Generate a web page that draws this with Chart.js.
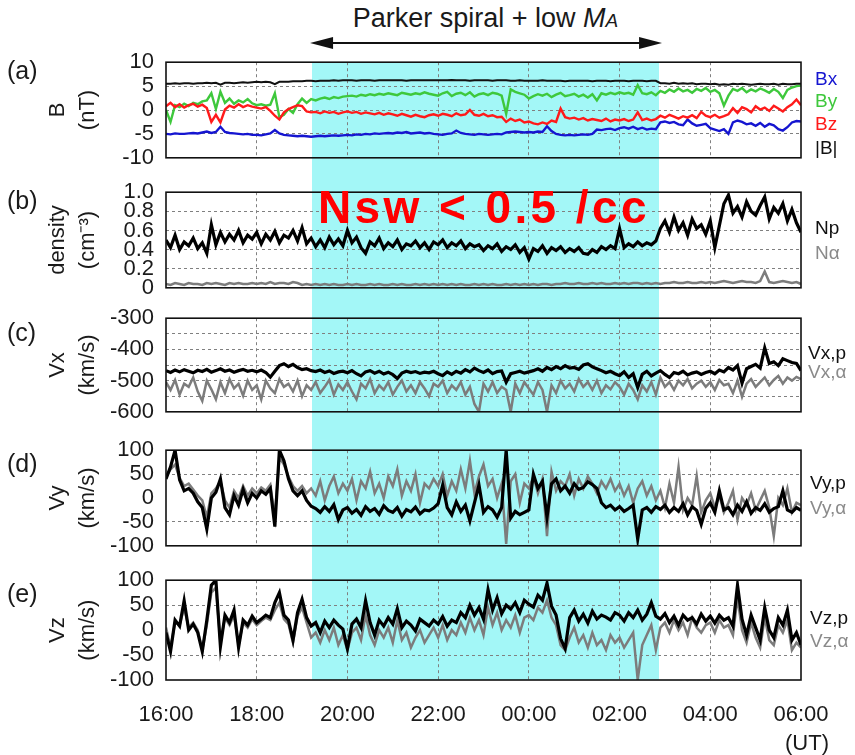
<!DOCTYPE html>
<html>
<head>
<meta charset="utf-8">
<script src="https://cdn.jsdelivr.net/npm/chart.js@4.4.1/dist/chart.umd.min.js"></script>
<style>
  html, body { margin: 0; padding: 0; background: #fff; }
  body { width: 855px; height: 755px; position: relative; overflow: hidden;
         font-family: "Liberation Sans", Arial, sans-serif; color: #1a1a1a; }
  canvas { position: absolute; left: 0; }
  #band { position: absolute; background: #a3f7f7; }
  #arrow { position: absolute; left: 0; top: 0; }
  .t { position: absolute; white-space: nowrap; line-height: 1; transform: translateY(-50%); }
  .lg { font-size: 19px; left: 815px; }
  .pl { font-size: 25px; left: 7px; }
</style>
</head>
<body>
<div id="band"></div>
<svg id="arrow" width="855" height="60"></svg>
<canvas id="pa"></canvas>
<canvas id="pb"></canvas>
<canvas id="pc"></canvas>
<canvas id="pd"></canvas>
<canvas id="pe"></canvas>

<div id="ttl" class="t" style="font-size:27px;top:18px;">Parker spiral + low <i>M</i><i style="font-size:19px">A</i></div>
<div class="t" style="font-size:46px;font-weight:bold;color:#ff0000;left:318px;top:207px;letter-spacing:3.4px;">Nsw &lt; 0.5 /cc</div>

<div class="t pl" style="top:70px">(a)</div>
<div class="t pl" style="top:200px">(b)</div>
<div class="t pl" style="top:332px">(c)</div>
<div class="t pl" style="top:463px">(d)</div>
<div class="t pl" style="top:593px">(e)</div>

<div class="t lg" style="top:78px;color:#1515d0">Bx</div>
<div class="t lg" style="top:100px;color:#3ec83c">By</div>
<div class="t lg" style="top:123px;color:#ff1a1a">Bz</div>
<div class="t lg" style="top:147px;color:#111">|B|</div>
<div class="t lg" style="top:227px;color:#111">Np</div>
<div class="t lg" style="top:252px;color:#8a8a8a">Nα</div>
<div class="t lg" style="top:352px;left:808px;color:#111">Vx,p</div>
<div class="t lg" style="top:371px;left:808px;color:#8a8a8a">Vx,α</div>
<div class="t lg" style="top:482px;left:810px;color:#111">Vy,p</div>
<div class="t lg" style="top:507px;left:810px;color:#8a8a8a">Vy,α</div>
<div class="t lg" style="top:617px;left:810px;color:#111">Vz,p</div>
<div class="t lg" style="top:640px;left:810px;color:#8a8a8a">Vz,α</div>
<div class="t" style="font-size:22px;left:785px;top:743px;">(UT)</div>

<script>
// one sample every 6 min, hours since 16:00 UT
const hours = Array.from({ length: 141 }, (_, i) => +(i * 0.1).toFixed(1));
const timeTicks = ['16:00', '18:00', '20:00', '22:00', '00:00', '02:00', '04:00', '06:00'];
const bandHours = [3.22, 10.87]; // 19:13 - 02:52, Parker spiral + low MA

// (a) magnetic field, nT
const bMag = [
  5.5,5.5,5.6,5.5,5.6,5.6,5.5,5.6,5.6,5.7,5.6,5.7,5.3,5.7,5.7,5.6,5.7,5.8,5.7,5.8,
  5.9,5.8,5.9,5.8,5.4,5.9,5.9,5.9,6.0,6.0,6.0,6.1,6.1,6.0,6.1,6.1,6.1,6.2,6.1,6.2,
  6.2,6.2,6.1,6.2,6.2,6.2,6.1,6.2,6.2,6.2,6.2,6.2,6.2,6.1,6.2,6.2,6.2,6.2,6.2,6.2,
  6.2,6.2,6.2,6.3,6.2,6.2,6.2,6.1,6.2,6.2,6.2,6.2,6.1,6.2,6.2,6.2,6.1,6.1,6.2,6.1,
  6.1,6.1,6.1,6.2,6.1,6.1,6.1,6.1,6.0,6.1,6.1,6.1,6.1,6.1,6.0,6.1,6.1,6.1,6.0,6.1,
  6.1,6.1,6.0,6.1,6.1,6.1,6.0,6.1,6.1,5.6,5.6,5.5,5.7,5.5,5.6,5.5,5.6,5.4,5.5,5.5,
  5.4,5.5,5.3,5.4,5.3,5.5,5.4,5.5,5.4,5.3,5.4,5.5,5.4,5.4,5.5,5.3,5.5,5.4,5.4,5.5,
  5.5
];
const bx = [
  -5.0,-5.1,-4.9,-5.0,-5.0,-4.9,-4.8,-4.9,-4.7,-4.5,-4.8,-4.6,-3.5,-4.6,-4.8,-4.9,-5.0,-5.1,-5.0,-5.2,
  -5.2,-5.3,-5.1,-4.9,-4.2,-4.9,-5.2,-5.3,-5.4,-5.5,-5.4,-5.5,-5.6,-5.5,-5.4,-5.5,-5.4,-5.3,-5.4,-5.3,
  -5.2,-5.3,-5.1,-5.2,-5.0,-5.1,-4.9,-5.0,-4.9,-4.8,-4.9,-4.7,-4.8,-4.6,-4.9,-4.8,-4.7,-4.9,-4.8,-5.0,
  -5.1,-5.2,-5.0,-4.9,-4.3,-4.8,-5.0,-5.1,-5.2,-5.0,-5.1,-5.2,-5.1,-5.0,-5.1,-4.7,-4.6,-4.5,-4.6,-4.7,
  -4.6,-4.7,-4.5,-4.6,-3.4,-4.4,-5.0,-5.2,-5.3,-5.2,-5.3,-5.2,-5.1,-5.2,-5.0,-4.1,-4.2,-4.0,-3.9,-4.2,
  -3.8,-3.6,-3.9,-3.5,-4.0,-3.7,-4.1,-3.9,-4.0,-2.6,-2.4,-2.7,-2.5,-3.0,-3.2,-2.0,-2.8,-3.3,-3.1,-2.9,
  -3.8,-4.1,-4.4,-4.0,-5.0,-2.6,-2.2,-2.5,-3.0,-2.8,-3.3,-2.7,-3.5,-2.9,-3.2,-4.0,-4.3,-3.6,-2.6,-2.3,
  -2.4
];
const by = [
  0.0,-2.5,1.0,0.6,1.3,0.8,1.5,1.2,1.8,2.0,3.5,0.2,3.8,1.5,2.4,1.3,2.0,1.6,2.3,1.4,
  1.0,1.2,0.9,1.1,3.5,-1.5,-1.0,0.2,-0.6,1.2,2.4,1.5,2.3,2.0,2.4,2.6,2.3,2.7,2.5,2.8,
  2.9,3.0,2.8,3.2,3.0,3.3,3.1,3.4,3.2,3.5,3.3,3.1,3.6,3.4,3.2,3.5,3.3,3.7,3.4,3.2,
  3.0,3.5,3.8,2.9,3.4,3.6,3.1,3.7,2.8,3.3,3.5,3.1,3.6,3.4,3.0,-0.8,4.3,3.8,3.5,3.2,
  2.4,2.9,3.3,3.0,3.4,2.7,3.2,3.6,2.9,3.1,3.4,2.8,3.2,2.6,3.3,2.0,3.5,3.2,3.6,3.3,
  3.7,3.4,3.6,3.2,5.2,3.5,3.3,3.7,3.1,4.0,3.6,4.3,3.8,4.5,3.9,4.2,3.6,4.4,4.0,4.6,
  3.8,4.2,3.5,0.9,3.0,4.4,4.0,4.6,3.7,4.3,3.9,4.5,4.1,3.6,4.4,3.8,2.5,4.2,4.7,5.0,
  5.1
];
const bz = [
  0.8,1.5,0.6,1.2,0.5,1.0,1.3,0.7,1.1,0.4,-2.5,-1.0,-2.6,0.1,0.9,0.5,1.2,0.6,1.0,0.7,
  0.5,0.3,0.6,-0.2,-1.2,-2.0,-0.5,0.2,0.6,1.0,0.8,-0.3,-0.5,-0.4,-0.7,-0.3,-0.6,-0.4,-0.8,-0.5,
  -0.3,-0.6,-0.4,-0.8,-0.5,-0.7,-0.9,-0.6,-1.0,-0.7,-0.9,-1.2,-0.8,-1.1,-1.4,-1.0,-1.3,-1.5,-1.1,-0.9,
  -1.2,-0.8,-1.0,-1.3,-0.7,-1.1,-0.9,0.0,-1.0,-1.2,-0.8,-1.3,-1.1,-1.5,-1.4,-2.5,-1.8,-2.3,-2.0,-2.6,
  -2.4,-2.8,-3.0,-2.6,-2.9,-2.2,-2.5,0.3,-1.5,-1.8,-1.6,-2.0,-1.7,-2.2,-1.9,-2.1,-2.3,-1.8,-2.4,-2.0,
  -2.2,-1.9,-2.3,-2.0,-0.5,-2.1,-1.8,-2.2,-1.9,-1.2,-1.6,-1.0,-1.4,-1.8,-1.3,-1.6,-1.1,-1.7,-0.4,-1.2,
  -1.5,-1.0,-1.6,-1.3,-0.9,0.4,-0.6,0.6,0.2,-0.5,0.8,0.1,0.5,-0.2,0.9,0.3,-0.3,0.6,1.2,2.2,
  1.0
];

// (b) density, cm^-3
const nP = [
  0.50,0.42,0.55,0.40,0.48,0.44,0.52,0.41,0.47,0.36,0.66,0.45,0.58,0.48,0.56,0.50,0.60,0.47,0.55,0.51,
  0.58,0.46,0.56,0.50,0.59,0.47,0.55,0.52,0.60,0.49,0.63,0.46,0.52,0.43,0.50,0.42,0.53,0.45,0.51,0.44,
  0.60,0.47,0.53,0.42,0.36,0.48,0.44,0.52,0.41,0.47,0.43,0.50,0.40,0.46,0.44,0.49,0.42,0.47,0.40,0.48,
  0.45,0.50,0.42,0.47,0.44,0.49,0.41,0.46,0.43,0.45,0.39,0.44,0.41,0.46,0.38,0.43,0.40,0.45,0.37,0.42,
  0.30,0.41,0.38,0.44,0.36,0.42,0.39,0.43,0.37,0.41,0.38,0.42,0.36,0.35,0.40,0.37,0.43,0.40,0.44,0.41,
  0.62,0.42,0.46,0.43,0.48,0.44,0.47,0.45,0.49,0.62,0.70,0.58,0.74,0.60,0.68,0.55,0.72,0.62,0.66,0.56,
  0.70,0.42,0.65,0.88,0.97,0.78,0.85,0.74,0.90,0.80,0.76,0.86,0.95,0.72,0.84,0.78,0.88,0.70,0.82,0.68,
  0.58
];
const nAlpha = [
  0.04,0.03,0.05,0.04,0.03,0.05,0.04,0.04,0.03,0.05,0.04,0.05,0.04,0.03,0.05,0.04,0.05,0.04,0.04,0.05,
  0.04,0.05,0.04,0.06,0.04,0.05,0.05,0.04,0.06,0.05,0.03,0.04,0.03,0.04,0.03,0.04,0.03,0.04,0.03,0.03,
  0.04,0.03,0.04,0.03,0.03,0.04,0.03,0.04,0.03,0.03,0.04,0.03,0.04,0.03,0.03,0.04,0.03,0.04,0.03,0.04,
  0.03,0.04,0.03,0.04,0.03,0.04,0.03,0.03,0.04,0.03,0.04,0.03,0.04,0.03,0.03,0.04,0.03,0.04,0.03,0.04,
  0.03,0.04,0.03,0.04,0.04,0.03,0.04,0.04,0.05,0.04,0.04,0.05,0.04,0.04,0.05,0.04,0.05,0.04,0.04,0.05,
  0.04,0.05,0.04,0.05,0.05,0.04,0.05,0.04,0.05,0.04,0.05,0.05,0.06,0.05,0.05,0.06,0.05,0.05,0.06,0.05,
  0.06,0.05,0.06,0.07,0.06,0.05,0.06,0.07,0.06,0.06,0.05,0.07,0.17,0.06,0.05,0.06,0.07,0.06,0.05,0.06,
  0.04
];

// (c) Vx, km/s
const vxP = [
  -468,-474,-466,-472,-465,-470,-475,-467,-471,-464,-473,-468,-462,-470,-466,-473,-468,-464,-470,-467,
  -472,-466,-474,-489,-470,-452,-446,-455,-448,-458,-465,-462,-468,-471,-466,-474,-469,-477,-472,-470,
  -475,-468,-478,-485,-472,-468,-476,-470,-479,-473,-481,-493,-476,-470,-474,-471,-477,-473,-475,-470,
  -478,-484,-472,-480,-470,-476,-465,-472,-460,-468,-474,-466,-478,-471,-469,-505,-478,-474,-470,-476,
  -472,-468,-462,-470,-458,-465,-455,-462,-452,-460,-458,-464,-450,-446,-456,-462,-468,-475,-470,-478,
  -484,-472,-490,-478,-522,-480,-470,-485,-476,-468,-480,-490,-474,-478,-470,-482,-476,-472,-480,-474,
  -470,-478,-466,-472,-458,-466,-452,-508,-462,-455,-448,-460,-395,-445,-440,-452,-430,-436,-442,-445,
  -468
];
const vxA = [
  -505,-530,-498,-545,-510,-520,-490,-535,-565,-500,-528,-560,-505,-540,-495,-525,-510,-548,-500,-530,
  -515,-560,-500,-525,-540,-495,-520,-510,-535,-500,-550,-515,-530,-505,-540,-520,-498,-545,-512,-530,
  -505,-535,-560,-510,-525,-495,-540,-515,-530,-505,-545,-520,-500,-535,-515,-540,-505,-525,-550,-510,
  -520,-500,-540,-515,-530,-505,-545,-520,-575,-600,-510,-535,-505,-540,-520,-530,-600,-510,-540,-505,
  -525,-545,-505,-530,-600,-515,-540,-500,-525,-510,-535,-495,-520,-505,-530,-500,-540,-515,-528,-505,
  -520,-545,-510,-530,-560,-515,-535,-505,-545,-490,-520,-505,-530,-500,-515,-495,-525,-510,-500,-520,
  -505,-530,-498,-515,-510,-540,-500,-552,-510,-495,-520,-505,-490,-515,-498,-485,-510,-490,-500,-488,
  -495
];

// (d) Vy, km/s
const vyP = [
  40,65,100,38,15,20,10,-8,-20,-65,0,12,40,-20,-35,5,-15,18,-10,10,
  0,15,8,20,-60,100,78,40,15,5,15,-5,-17,-22,-30,-18,-28,-14,-45,-25,
  -20,-32,-24,-36,-18,-28,-22,-34,-16,-26,-30,-20,-38,-24,-29,-19,-33,-25,-27,-21,
  -12,27,-20,-35,-8,-28,-15,-48,-10,27,-30,-18,-25,-40,-20,100,-42,-28,-35,-30,
  -25,50,20,35,-40,30,40,15,25,10,30,18,22,34,28,20,-10,-20,-15,-25,
  -18,-28,-22,-15,-86,-25,-20,-30,-18,-24,-15,-30,-20,-28,-12,-35,-18,-26,-55,-22,
  -10,-30,15,-25,-20,-35,-15,-28,-8,-32,-20,-26,-12,-30,-22,-18,15,-25,-30,-20,
  -26
];
const vyA = [
  45,60,70,42,25,30,18,5,-5,-40,10,20,35,-5,-20,15,0,25,5,20,
  10,22,15,28,-40,85,70,45,25,15,25,10,20,5,35,-5,25,45,10,30,
  15,40,-5,35,20,55,10,30,0,45,25,60,5,35,15,50,-10,30,20,40,
  25,50,5,35,15,60,20,78,10,45,70,25,40,0,30,-96,35,50,-10,30,
  20,45,10,40,-80,55,15,35,25,50,5,40,20,45,30,10,35,20,40,15,
  30,5,25,-10,20,35,5,25,-5,15,-20,30,-10,65,-25,0,-15,46,-30,-5,
  10,-20,5,-30,-10,15,-45,0,-15,10,-25,-5,15,-20,-80,0,-15,20,-30,-10,
  -15
];

// (e) Vz, km/s
const vzP = [
  -5,-43,20,8,59,0,12,-5,-43,20,90,100,-33,30,15,40,-35,20,10,28,
  15,22,30,25,55,75,30,20,-20,35,62,25,8,15,-5,18,5,20,10,2,
  -37,12,22,5,59,15,-10,20,8,25,12,43,5,18,10,-2,22,15,8,20,
  12,27,8,20,15,35,25,50,30,45,22,81,40,65,33,50,42,55,35,60,
  52,46,70,60,94,48,30,-17,-37,25,40,18,32,14,38,22,30,26,20,35,
  30,18,35,25,40,20,32,55,28,22,33,15,28,10,30,20,25,12,32,18,
  28,14,30,20,25,8,90,22,-10,30,5,-20,45,0,-15,25,10,40,-20,-5,
  -30
];
const vzA = [
  5,-35,15,10,45,5,15,0,-40,10,75,85,-25,25,10,30,-30,15,5,22,
  10,18,25,20,40,55,22,12,-25,28,45,15,-15,-5,-25,0,-20,5,-30,-10,
  -40,-5,5,-20,30,-10,-30,0,-15,5,-25,20,-20,-5,-35,-15,0,-25,-10,5,
  -15,10,-20,0,-10,15,-5,25,0,20,-10,45,10,35,0,20,5,30,-5,25,
  30,20,45,35,60,25,10,-30,-40,-15,5,-25,-10,-35,-5,-30,-20,-40,-10,-25,
  -15,-35,-20,-5,-100,-30,-10,10,-40,5,15,-5,20,0,15,-10,25,5,-5,10,
  15,-5,20,5,10,-10,65,0,-25,15,-15,-35,25,-20,-30,10,-5,20,-40,-25,
  -35
];

const INK = '#1a1a1a';
const GREY = '#7c7c7c';
const GRID = '#808080';
Chart.defaults.font.family = '"Liberation Sans", Arial, sans-serif';

const panels = [
  { id: 'pa', top: 57, bottom: 163, min: -10, max: 10, step: 5, title: ['B', '(nT)'],
    sets: [[bMag, '#111', 2], [bz, '#ff1a1a', 2.4], [bx, '#1515d0', 2.4], [by, '#3ec83c', 2.4]] },
  { id: 'pb', top: 187, bottom: 293, min: 0, max: 1, step: 0.2, title: ['density', '(cm⁻³)'],
    fmt: v => (Math.abs(v) < 1e-9 ? '0' : v.toFixed(1)),
    sets: [[nP, '#000', 3.2], [nAlpha, GREY, 2.5]] },
  { id: 'pc', top: 313, bottom: 417, min: -600, max: -300, step: 50, title: ['Vx', '(km/s)'],
    fmt: v => (v % 100 === 0 ? String(v) : ''),
    sets: [[vxP, '#000', 3.2], [vxA, GREY, 2.5]] },
  { id: 'pd', top: 445, bottom: 551, min: -100, max: 100, step: 50, title: ['Vy', '(km/s)'],
    noZeroGrid: true, sets: [[vyP, '#000', 3.2], [vyA, GREY, 2.5]] },
  { id: 'pe', top: 575, bottom: 680, min: -100, max: 100, step: 50, title: ['Vz', '(km/s)'],
    noZeroGrid: true, sets: [[vzP, '#000', 3.2], [vzA, GREY, 2.5]] }
];

// box around each plot area
const frame = {
  id: 'frame',
  afterDraw(chart) {
    const { ctx, chartArea: a } = chart;
    ctx.save();
    ctx.strokeStyle = '#111';
    ctx.lineWidth = 1.6;
    ctx.strokeRect(a.left, a.top, a.right - a.left, a.bottom - a.top);
    ctx.restore();
  }
};

function makePanel(p, isLast) {
  const canvas = document.getElementById(p.id);
  const padTop = 20, padBottom = isLast ? 0 : 20, axisH = isLast ? 60 : 0;
  canvas.width = 855;
  canvas.height = p.bottom - p.top + padTop + padBottom + axisH;
  canvas.style.top = (p.top - padTop) + 'px';
  const near = (a, b) => Math.abs(a - b) < 1e-6;

  return new Chart(canvas.getContext('2d'), {
    type: 'line',
    data: {
      labels: hours,
      datasets: p.sets.map(([data, color, w]) => ({
        data, borderColor: color, borderWidth: w, pointRadius: 0, tension: 0, fill: false
      }))
    },
    options: {
      responsive: false,
      animation: false,
      devicePixelRatio: 1,
      layout: { padding: { top: padTop, bottom: padBottom, left: 0, right: 54 } },
      plugins: { legend: { display: false }, tooltip: { enabled: false } },
      scales: {
        x: {
          type: 'linear', min: 0, max: 14,
          afterFit: s => { s.height = axisH; },
          ticks: {
            display: isLast, stepSize: 2, autoSkip: false, maxRotation: 0, padding: 22,
            color: INK, font: { size: 22 }, callback: v => timeTicks[v / 2]
          },
          grid: {
            drawTicks: false, lineWidth: 1,
            color: c => (c.tick && (near(c.tick.value, 0) || near(c.tick.value, 14)) ? 'rgba(0,0,0,0)' : GRID)
          },
          border: { display: false, dash: [3, 3] }
        },
        y: {
          min: p.min, max: p.max,
          afterFit: s => { s.width = 166; },
          ticks: {
            stepSize: p.step, autoSkip: false, padding: 12, color: INK, font: { size: 22 },
            callback: p.fmt || (v => String(v))
          },
          title: {
            display: true, text: p.title, color: INK,
            font: { size: 22, lineHeight: 1.36 }, padding: { top: 43, bottom: 0 }
          },
          grid: {
            drawTicks: false, lineWidth: 1,
            color: c => {
              const v = c.tick ? c.tick.value : 0;
              if (near(v, p.min) || near(v, p.max)) return 'rgba(0,0,0,0)';
              if (p.noZeroGrid && near(v, 0)) return 'rgba(0,0,0,0)';
              return GRID;
            }
          },
          border: { display: false, dash: [3, 3] }
        }
      }
    },
    plugins: [frame]
  });
}

const charts = panels.map((p, i) => makePanel(p, i === panels.length - 1));

// shaded interval and arrow, placed through the x scale
const xs = charts[0].scales.x;
const x0 = xs.getPixelForValue(bandHours[0]);
const x1 = xs.getPixelForValue(bandHours[1]);
const yTop = charts[0].canvas.offsetTop + charts[0].chartArea.top;
const last = charts[charts.length - 1];
const yBot = last.canvas.offsetTop + last.chartArea.bottom;
const band = document.getElementById('band');
band.style.left = x0 + 'px';
band.style.width = (x1 - x0) + 'px';
band.style.top = yTop + 'px';
band.style.height = (yBot - yTop) + 'px';

const ay = 43, head = 23;
document.getElementById('arrow').innerHTML =
  `<line x1="${x0 + 10}" y1="${ay}" x2="${x1 - 10}" y2="${ay}" stroke="#111" stroke-width="2.2"/>` +
  `<polygon points="${x0 - 2},${ay} ${x0 - 2 + head},${ay - 6} ${x0 - 2 + head},${ay + 6}" fill="#111"/>` +
  `<polygon points="${x1 + 3},${ay} ${x1 + 3 - head},${ay - 6} ${x1 + 3 - head},${ay + 6}" fill="#111"/>`;

const ttl = document.getElementById('ttl');
ttl.style.left = ((x0 + x1) / 2) + 'px';
ttl.style.transform = 'translate(-50%, -50%)';
</script>
</body>
</html>
